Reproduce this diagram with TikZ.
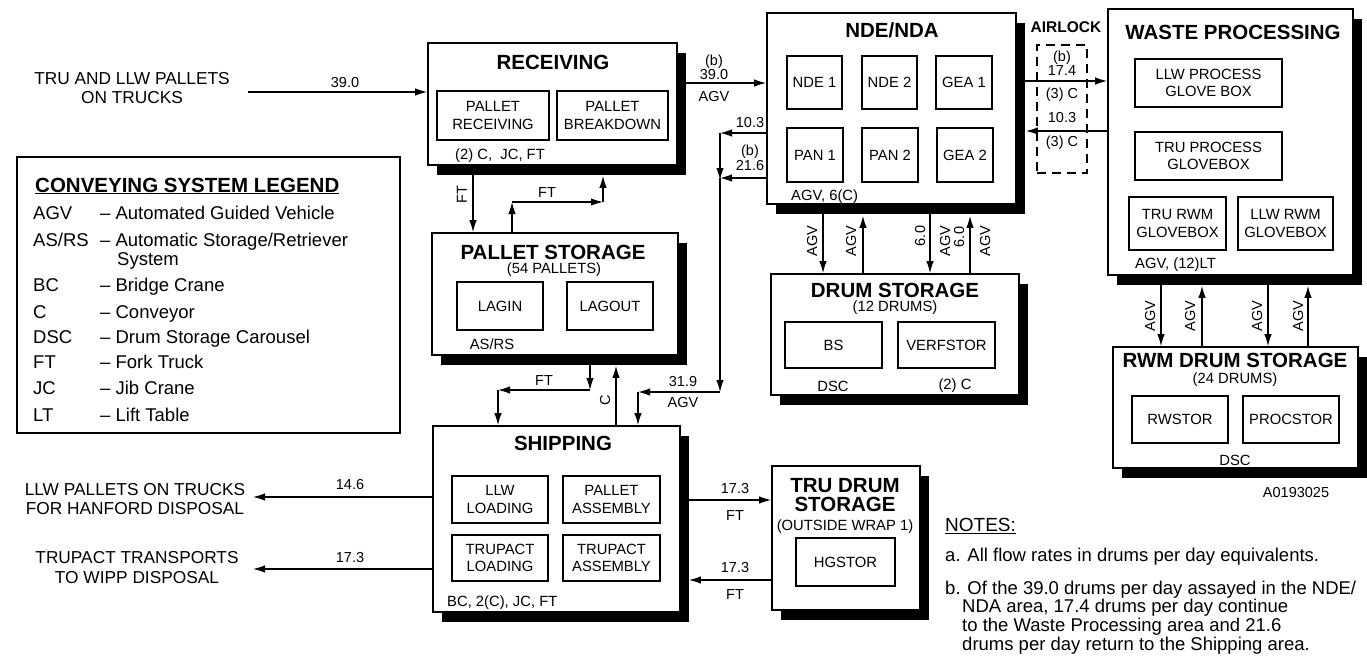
\documentclass[tikz,border=0pt]{standalone}
\usepackage{fontspec}
\setmainfont{Liberation Sans}
\usetikzlibrary{arrows.meta,shadows,calc}
\newcommand\fTitle{\fontsize{20.5}{22}\selectfont\bfseries}
\newcommand\fBox{\fontsize{14.8}{17.5}\selectfont}
\newcommand\fLbl{\fontsize{14.5}{16}\selectfont}
\newcommand\fOut{\fontsize{17.3}{19.5}\selectfont}
\newcommand\fLeg{\fontsize{18.5}{20}\selectfont}
\newcommand\fNote{\fontsize{18.5}{19}\selectfont}
\begin{document}
\begin{tikzpicture}[x=1pt,y=-1pt,
  bigbox/.style={draw, line width=1.7pt, fill=white, inner sep=0pt,
    general shadow={fill=black, shadow xshift=9pt, shadow yshift=-10pt}},
  inbox/.style={draw, line width=1.2pt, align=center, font=\fBox, inner sep=0pt},
  ttl/.style={font=\fTitle, inner sep=0pt, align=center},
  sub/.style={font=\fBox, inner sep=0pt},
  lbl/.style={font=\fLbl, inner sep=0pt},
  outl/.style={font=\fOut, inner sep=0pt, align=center},
  leg/.style={font=\fLeg, inner sep=0pt, anchor=base west},
  note/.style={font=\fNote, inner sep=0pt, anchor=base west},
  arr/.style={-{Latex[length=12pt,width=7.5pt]}, line width=1.3pt}]
\fill[white] (0,0) rectangle (1367,658);
\useasboundingbox (0,0) rectangle (1367,658);

% ---------- big boxes ----------
\node[bigbox, minimum width=249pt, minimum height=122pt] (rec) at (552.5,104) {};
\node[bigbox, minimum width=249pt, minimum height=191pt] (nde) at (891.5,108.5) {};
\node[bigbox, minimum width=245pt, minimum height=266pt] (wp) at (1230.5,142) {};
\node[bigbox, minimum width=246pt, minimum height=122pt] (ps) at (555,294) {};
\node[bigbox, minimum width=248pt, minimum height=121pt] (ds) at (895,334.5) {};
\node[bigbox, minimum width=245pt, minimum height=121pt] (rwm) at (1235.5,407.5) {};
\node[bigbox, minimum width=247pt, minimum height=186pt] (ship) at (556.5,519) {};
\node[bigbox, minimum width=148pt, minimum height=144pt] (tru) at (846,538) {};
\node[draw, line width=1.5pt, minimum width=383pt, minimum height=276pt, inner sep=0pt] (leg) at (208.5,295) {};
\node[draw, dashed, dash pattern=on 9pt off 6pt, line width=1.5pt, minimum width=50pt, minimum height=128pt, inner sep=0pt] (air) at (1062,109) {};

% ---------- titles ----------
\node[ttl] (recT) at (553,62) {RECEIVING};
\node[ttl] (ndeT) at (892,30) {NDE/NDA};
\node[ttl] (wpT) at (1233,32) {WASTE PROCESSING};
\node[ttl] (psT) at (553,252) {PALLET STORAGE};
\node[sub] (psS) at (554,270) {(54 PALLETS)};
\node[ttl] (dsT) at (895,290) {DRUM STORAGE};
\node[sub] (dsS) at (895,308) {(12 DRUMS)};
\node[ttl] (rwmT) at (1235,360) {RWM DRUM STORAGE};
\node[sub] (rwmS) at (1235,380) {(24 DRUMS)};
\node[ttl] (shipT) at (563,443) {SHIPPING};
\node[ttl] (truT) at (845,495.5) {TRU DRUM\\[-3pt]STORAGE};
\node[sub] (truS) at (845,527) {(OUTSIDE WRAP 1)};
\node[font=\fontsize{15.5}{17}\selectfont\bfseries, inner sep=0pt] (airT) at (1066,27) {AIRLOCK};

% ---------- inner boxes ----------
\node[inbox, minimum width=112pt, minimum height=49pt] (prcv) at (493,115.5) {PALLET\\RECEIVING};
\node[inbox, minimum width=111pt, minimum height=49pt] (pbrk) at (612.5,115.5) {PALLET\\BREAKDOWN};
\node[inbox, minimum width=55pt, minimum height=53pt] (nde1) at (814.5,82.5) {NDE 1};
\node[inbox, minimum width=55pt, minimum height=53pt] (nde2) at (889.5,82.5) {NDE 2};
\node[inbox, minimum width=56pt, minimum height=53pt] (gea1) at (964,82.5) {GEA 1};
\node[inbox, minimum width=56pt, minimum height=54pt] (pan1) at (815,155) {PAN 1};
\node[inbox, minimum width=56pt, minimum height=54pt] (pan2) at (890,155) {PAN 2};
\node[inbox, minimum width=56pt, minimum height=54pt] (gea2) at (965,155) {GEA 2};
\node[inbox, minimum width=147pt, minimum height=48pt] (llwp) at (1208.5,83) {LLW PROCESS\\GLOVE BOX};
\node[inbox, minimum width=147pt, minimum height=48pt] (trup) at (1208.5,156) {TRU PROCESS\\GLOVEBOX};
\node[inbox, minimum width=97pt, minimum height=53pt] (trurwm) at (1177.5,223.5) {TRU RWM\\GLOVEBOX};
\node[inbox, minimum width=95pt, minimum height=53pt] (llwrwm) at (1285.5,223.5) {LLW RWM\\GLOVEBOX};
\node[inbox, minimum width=86pt, minimum height=48pt] (lagin) at (500,306) {LAGIN};
\node[inbox, minimum width=86pt, minimum height=48pt] (lagout) at (610,306) {LAGOUT};
\node[inbox, minimum width=97pt, minimum height=46pt] (bs) at (833.5,345) {BS};
\node[inbox, minimum width=97pt, minimum height=46pt] (verf) at (946.5,345) {VERFSTOR};
\node[inbox, minimum width=96pt, minimum height=47pt] (rwstor) at (1180,419.5) {RWSTOR};
\node[inbox, minimum width=96pt, minimum height=47pt] (procstor) at (1291,419.5) {PROCSTOR};
\node[inbox, minimum width=96pt, minimum height=47pt] (llwl) at (500,499.5) {LLW\\LOADING};
\node[inbox, minimum width=97pt, minimum height=47pt] (pasm) at (611.5,499.5) {PALLET\\ASSEMBLY};
\node[inbox, minimum width=96pt, minimum height=46pt] (trl) at (500,558) {TRUPACT\\LOADING};
\node[inbox, minimum width=97pt, minimum height=46pt] (tra) at (611.5,558) {TRUPACT\\ASSEMBLY};
\node[inbox, minimum width=99pt, minimum height=48pt] (hg) at (845.5,562) {HGSTOR};

% ---------- equipment notes in boxes ----------
\node[sub, anchor=west] (recE) at (455,156) {(2) C,\ \ JC, FT};
\node[sub, anchor=west] (ndeE) at (791,197) {AGV, 6(C)};
\node[sub, anchor=west] (wpE) at (1135,265) {AGV, (12)LT};
\node[sub] (psE) at (492,344) {AS/RS};
\node[sub] (dsE1) at (833,386) {DSC};
\node[sub] (dsE2) at (955,386) {(2) C};
\node[sub] (rwmE) at (1235,460) {DSC};
\node[sub, anchor=west] (shipE) at (447,603) {BC, 2(C), JC, FT};

% ---------- outside labels ----------
\node[outl] (inL) at (132,88) {TRU AND LLW PALLETS\\ON TRUCKS};
\node[outl] (outL1) at (135,499) {LLW PALLETS ON TRUCKS\\FOR HANFORD DISPOSAL};
\node[outl] (outL2) at (137,567.5) {TRUPACT TRANSPORTS\\TO WIPP DISPOSAL};
\node[lbl] (fig) at (1296,493) {A0193025};

% ---------- connectors ----------
\coordinate (inS) at (248,92);
\draw[arr] (inS) -- (inS -| rec.west);
\node[lbl] (l390a) at (345,83) {39.0};

\draw[arr] (rec.east |- 0,83) -- (nde.west |- 0,83);
\node[lbl] (lb1) at (714,62) {(b)};
\node[lbl] (l390b) at (714,75) {39.0};
\node[lbl] (lagv1) at (714,97) {AGV};

\draw[arr] (nde.west |- 0,133) -- (720,133);
\draw[arr] (nde.west |- 0,178) -- (720,178);
\draw[arr] (720,133) -- (720,180);
\draw[arr] (720,178) -- (720,392);
\draw[arr] (720,392) -- (638,392);
\draw[arr] (638,392) -- (638,0 |- ship.north);
\node[lbl] (l103a) at (750,123) {10.3};
\node[lbl] (lb2) at (750,152) {(b)};
\node[lbl] (l216) at (750,166) {21.6};
\node[lbl] (l319) at (683,382) {31.9};
\node[lbl] (lagv2) at (683,403) {AGV};

\draw[arr] (473,0 |- rec.south) -- (473,0 |- ps.north);
\node[lbl, rotate=90] (lft1) at (462,195) {FT};
\draw[arr] (512,0 |- ps.north) -- (512,202);
\draw[arr] (512,202) -- (603,202);
\draw[arr] (603,202) -- ($(603,0 |- rec.south)+(0,10)$);
\node[lbl] (lft2) at (547,193) {FT};

\draw[arr] (590,0 |- ps.south) -- (590,390);
\draw[arr] (590,390) -- (498,390);
\draw[arr] (498,390) -- (498,0 |- ship.north);
\node[lbl] (lft3) at (544,381) {FT};
\draw[arr] (616,0 |- ship.north) -- ($(616,0 |- ps.south)+(0,10)$);
\node[lbl, rotate=90] (lc) at (605,400) {C};

\draw[arr] (823,0 |- nde.south) -- (823,0 |- ds.north);
\draw[arr] (863,0 |- ds.north) -- ($(863,0 |- nde.south)+(0,11)$);
\draw[arr] (930,0 |- nde.south) -- (930,0 |- ds.north);
\draw[arr] (970,0 |- ds.north) -- ($(970,0 |- nde.south)+(0,11)$);
\node[lbl, rotate=90] (da1) at (812,241) {AGV};
\node[lbl, rotate=90] (da2) at (851,241) {AGV};
\node[lbl, rotate=90] (da3) at (920,236) {6.0};
\node[lbl, rotate=90] (da4) at (945,241) {AGV};
\node[lbl, rotate=90] (da5) at (959,237) {6.0};
\node[lbl, rotate=90] (da6) at (985,241) {AGV};

\draw[arr] (nde.east |- 0,81) -- (wp.west |- 0,81);
\draw[arr] (wp.west |- 0,131) -- ($(nde.east |- 0,131)+(9,0)$);
\node[lbl] (ab1) at (1062,58) {(b)};
\node[lbl] (a174) at (1062,71) {17.4};
\node[lbl] (a3c1) at (1062,95) {(3) C};
\node[lbl] (a103) at (1062,118) {10.3};
\node[lbl] (a3c2) at (1062,143) {(3) C};

\draw[arr] (1161,0 |- wp.south) -- (1161,0 |- rwm.north);
\draw[arr] (1202,0 |- rwm.north) -- ($(1202,0 |- wp.south)+(0,10)$);
\draw[arr] (1268,0 |- wp.south) -- (1268,0 |- rwm.north);
\draw[arr] (1308,0 |- rwm.north) -- ($(1308,0 |- wp.south)+(0,10)$);
\node[lbl, rotate=90] (ra1) at (1150,316) {AGV};
\node[lbl, rotate=90] (ra2) at (1190,316) {AGV};
\node[lbl, rotate=90] (ra3) at (1257,316) {AGV};
\node[lbl, rotate=90] (ra4) at (1298,316) {AGV};

\draw[arr] (ship.east |- 0,500) -- (tru.west |- 0,500);
\draw[arr] (tru.west |- 0,580) -- ($(ship.east |- 0,580)+(8,0)$);
\node[lbl] (t1) at (735,489) {17.3};
\node[lbl] (t2) at (735,516) {FT};
\node[lbl] (t3) at (735,568) {17.3};
\node[lbl] (t4) at (735,595) {FT};

\coordinate (o1) at (253,497);
\coordinate (o2) at (253,569);
\draw[arr] (ship.west |- o1) -- (o1);
\draw[arr] (ship.west |- o2) -- (o2);
\node[lbl] (o1l) at (350,485) {14.6};
\node[lbl] (o2l) at (350,558) {17.3};

% ---------- legend ----------
\node[leg, font=\fontsize{20.5}{22}\selectfont\bfseries] (legT) at (35,192) {\underline{CONVEYING SYSTEM LEGEND}};
\node[leg] (k1) at (33,219.5) {AGV};   \node[leg] (d1) at (100,219.5) {-- Automated Guided Vehicle};
\node[leg] (k2) at (33,246.5) {AS/RS}; \node[leg] (d2) at (100,246.5) {-- Automatic Storage/Retriever};
\node[leg] (d2b) at (117,265) {System};
\node[leg] (k3) at (33,291.5) {BC};    \node[leg] (d3) at (100,291.5) {-- Bridge Crane};
\node[leg] (k4) at (33,318.5) {C};     \node[leg] (d4) at (100,318.5) {-- Conveyor};
\node[leg] (k5) at (33,343.5) {DSC};   \node[leg] (d5) at (100,343.5) {-- Drum Storage Carousel};
\node[leg] (k6) at (33,368.5) {FT};    \node[leg] (d6) at (100,368.5) {-- Fork Truck};
\node[leg] (k7) at (33,394.5) {JC};    \node[leg] (d7) at (100,394.5) {-- Jib Crane};
\node[leg] (k8) at (33,421.5) {LT};    \node[leg] (d8) at (100,421.5) {-- Lift Table};

% ---------- notes ----------
\node[note, font=\fontsize{19}{21}\selectfont] (nT) at (945,531.5) {\underline{NOTES:}};
\node[note] (na) at (945,561.5) {a. All flow rates in drums per day equivalents.};
\node[note] (nb1) at (945,594.5) {b. Of the 39.0 drums per day assayed in the NDE/};
\node[note] (nb2) at (962,612.5) {NDA area, 17.4 drums per day continue};
\node[note] (nb3) at (962,631) {to the Waste Processing area and 21.6};
\node[note] (nb4) at (962,650) {drums per day return to the Shipping area.};
\end{tikzpicture}
\end{document}
